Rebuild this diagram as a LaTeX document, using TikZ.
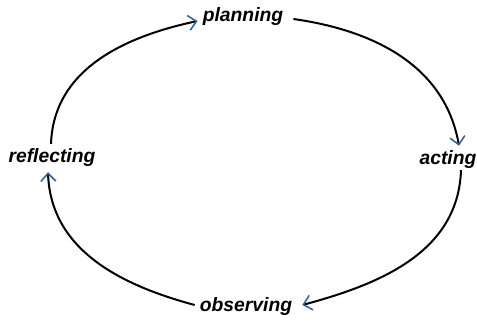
\documentclass[tikz,border=0pt]{standalone}
\usepackage{fontspec}
\setmainfont{Liberation Sans}
\usetikzlibrary{arrows.meta,positioning}
\definecolor{tipblue}{RGB}{46,96,160}
\tikzset{
  stage/.style={font=\fontsize{19.3}{21}\selectfont\bfseries\itshape, inner sep=1pt},
  cyc/.style={line width=2pt, -{Straight Barb[length=8pt,width=15pt,line width=1.5pt,color=tipblue]}}
}
\begin{document}
\begin{tikzpicture}[x=1pt,y=1pt]
        \useasboundingbox (0,0) rectangle (477,324);
        % stages
        \node[stage] (plan) at (243,307) {planning};
        \node[stage] (act) at (448,164) {acting};
        \node[stage] (obs) at (246,17) {observing};
        \node[stage] (refl) at (52,166) {reflecting};
        % cycle
        \draw[cyc] ([xshift=9pt,yshift=-2pt]plan.east) to[out=-8,in=100] ([xshift=11pt,yshift=4pt]act.north);
        \draw[cyc] ([xshift=13pt]act.south) to[out=-92,in=15] ([xshift=9pt,yshift=2pt]obs.east);
        \draw[cyc] ([xshift=-4pt,yshift=2pt]obs.west) to[out=165,in=-88] ([xshift=-4pt,yshift=-4pt]refl.south);
        \draw[cyc] ([xshift=-1pt,yshift=4pt]refl.north) to[out=88,in=192] ([xshift=-4pt,yshift=-4pt]plan.west);
    \end{tikzpicture}
\end{document}
